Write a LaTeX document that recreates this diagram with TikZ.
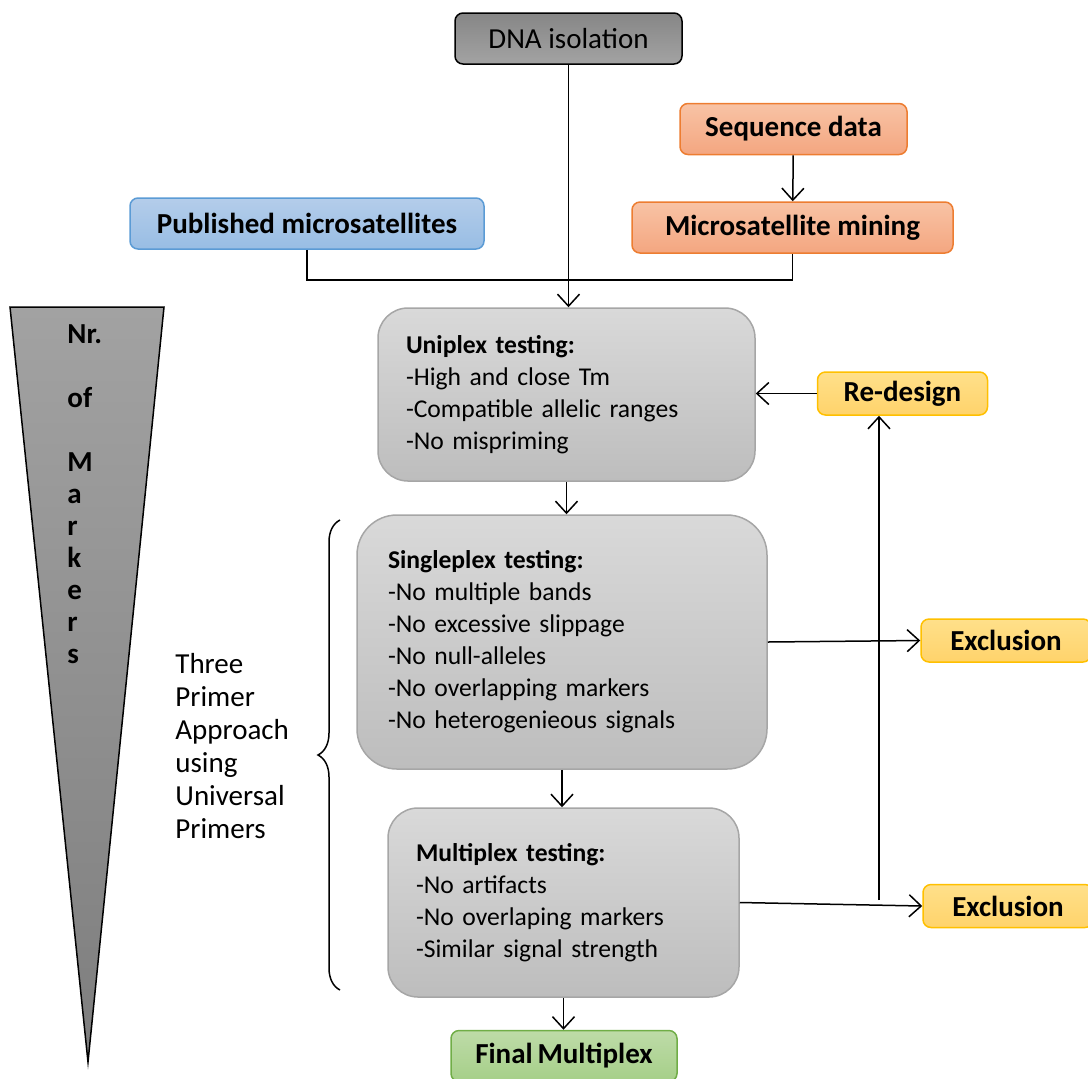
\documentclass[tikz,border=0pt]{standalone}
\usepackage{fontspec}
\setmainfont{Carlito}
\usetikzlibrary{arrows.meta,positioning,decorations.pathreplacing}
\definecolor{dnatop}{HTML}{868686}
\definecolor{dnabot}{HTML}{A3A3A3}
\definecolor{orangetop}{HTML}{F8C3A5}
\definecolor{orangebot}{HTML}{F4A680}
\definecolor{orangeline}{HTML}{ED7D31}
\definecolor{bluetop}{HTML}{B4CDEA}
\definecolor{bluebot}{HTML}{98BDE4}
\definecolor{blueline}{HTML}{5B9BD5}
\definecolor{greytop}{HTML}{D9D9D9}
\definecolor{greybot}{HTML}{BDBDBD}
\definecolor{greyline}{HTML}{A6A6A6}
\definecolor{yellowtop}{HTML}{FFE08A}
\definecolor{yellowbot}{HTML}{FFD36B}
\definecolor{yellowline}{HTML}{FFC000}
\definecolor{greentop}{HTML}{BEDBA8}
\definecolor{greenbot}{HTML}{A5CF88}
\definecolor{greenline}{HTML}{70AD47}
\definecolor{conetop}{HTML}{A2A2A2}
\definecolor{conebot}{HTML}{7E7E7E}

\begin{document}
\begin{tikzpicture}[
  x=0.5pt,y=-0.5pt,
  smallbox/.style={rounded corners=4pt,line width=0.75pt,minimum height=25.5pt,
                   inner sep=0pt,font=\fontsize{14.5}{16}\selectfont\bfseries},
  dnabox/.style={smallbox,draw=black,top color=dnatop,bottom color=dnabot,
                 minimum width=113.5pt,font=\fontsize{14.5}{16}\selectfont},
  seqbox/.style={smallbox,draw=orangeline,top color=orangetop,bottom color=orangebot},
  pubbox/.style={smallbox,draw=blueline,top color=bluetop,bottom color=bluebot},
  outbox/.style={smallbox,draw=yellowline,top color=yellowtop,bottom color=yellowbot,
                 minimum width=85pt,minimum height=21.5pt},
  finalbox/.style={smallbox,draw=greenline,top color=greentop,bottom color=greenbot,
                   minimum width=113pt},
  testbox/.style={draw=greyline,line width=0.75pt,top color=greytop,bottom color=greybot,
                  align=left,inner ysep=0pt,font=\fontsize{12.8}{16}\selectfont},
  flow/.style={-{Straight Barb[length=6pt,width=11pt]},line width=0.75pt},
  plain/.style={line width=0.75pt}
]
\useasboundingbox (0,0) rectangle (1088,1078);
\clip (0,0) rectangle (1088,1078);

\node[dnabox] (dna) at (568.5,38.5) {DNA isolation};
\node[seqbox,minimum width=113.5pt] (seq) at (793.5,129) {Sequence data};
\node[seqbox,minimum width=160.5pt] (mining) at (792.5,227.5) {Microsatellite mining};
\node[pubbox,minimum width=177pt] (pub) at (307,223.5) {Published microsatellites};

\node[testbox,rounded corners=15pt,text width=160.5pt,inner xsep=14pt,
      minimum height=86.5pt] (uni) at (566.5,394.5)
  {\textbf{Uniplex testing:}\\-High and close Tm\\-Compatible allelic ranges\\-No mispriming};
\node[testbox,rounded corners=20pt,text width=174pt,inner xsep=15.5pt,
      minimum height=127pt] (single) at (562,642)
  {\textbf{Singleplex testing:}\\-No multiple bands\\-No excessive slippage\\-No null-alleles\\
   -No overlapping markers\\-No heterogenieous signals};
\node[testbox,rounded corners=15pt,text width=147.5pt,inner xsep=14pt,
      minimum height=94.5pt] (multi) at (563.5,902.5)
  {\textbf{Multiplex testing:}\\-No artifacts\\-No overlaping markers\\-Similar signal strength};

\node[outbox] (redesign) at (902.5,393.5) {Re-design};
\node[outbox] (excl1) at (1006,640.5) {Exclusion};
\node[outbox] (excl2) at (1008,906) {Exclusion};
\node[finalbox] (final) at (564,1056) {Final\,Multiplex};

\coordinate (join) at (568.5,280);
\coordinate (loopfoot) at (879,900);

\draw[flow] (dna.south) -- (dna.south |- uni.north);
\draw[plain] (pub.south) |- (join);
\draw[plain] (mining.south) |- (join);
\draw[flow] (seq) -- (mining);
\draw[flow] (redesign.west) -- (redesign.west -| uni.east);
\draw[flow] (uni.south) -- (uni.south |- single.north);
\draw[flow] (single.east) -- (excl1.west);
\draw[flow] (single.south) -- (single.south |- multi.north);
\draw[flow] (multi.east) -- (excl2.west);
\draw[flow] (loopfoot) -- (loopfoot |- redesign.south);
\draw[flow] (multi.south) -- (multi.south |- final.north);

\draw[line width=0.75pt,top color=conetop,bottom color=conebot]
  (10,307) -- (164,307) -- (88,1062) -- cycle;
\node[anchor=north west,align=left,inner sep=0pt,
      font=\fontsize{14.5}{16}\selectfont\bfseries] (markers) at (67,324)
  {Nr.\\[16pt]of\\[16pt]M\\a\\r\\k\\e\\r\\s};

\draw[line width=0.75pt,decorate,decoration={brace,amplitude=11pt}]
  (340,990) -- (340,520);
\node[anchor=north west,align=left,inner sep=0pt,
      font=\fontsize{14.5}{16.5}\selectfont] (approach) at (175,653)
  {Three\\Primer\\Approach\\using\\Universal\\Primers};
\end{tikzpicture}
\end{document}
